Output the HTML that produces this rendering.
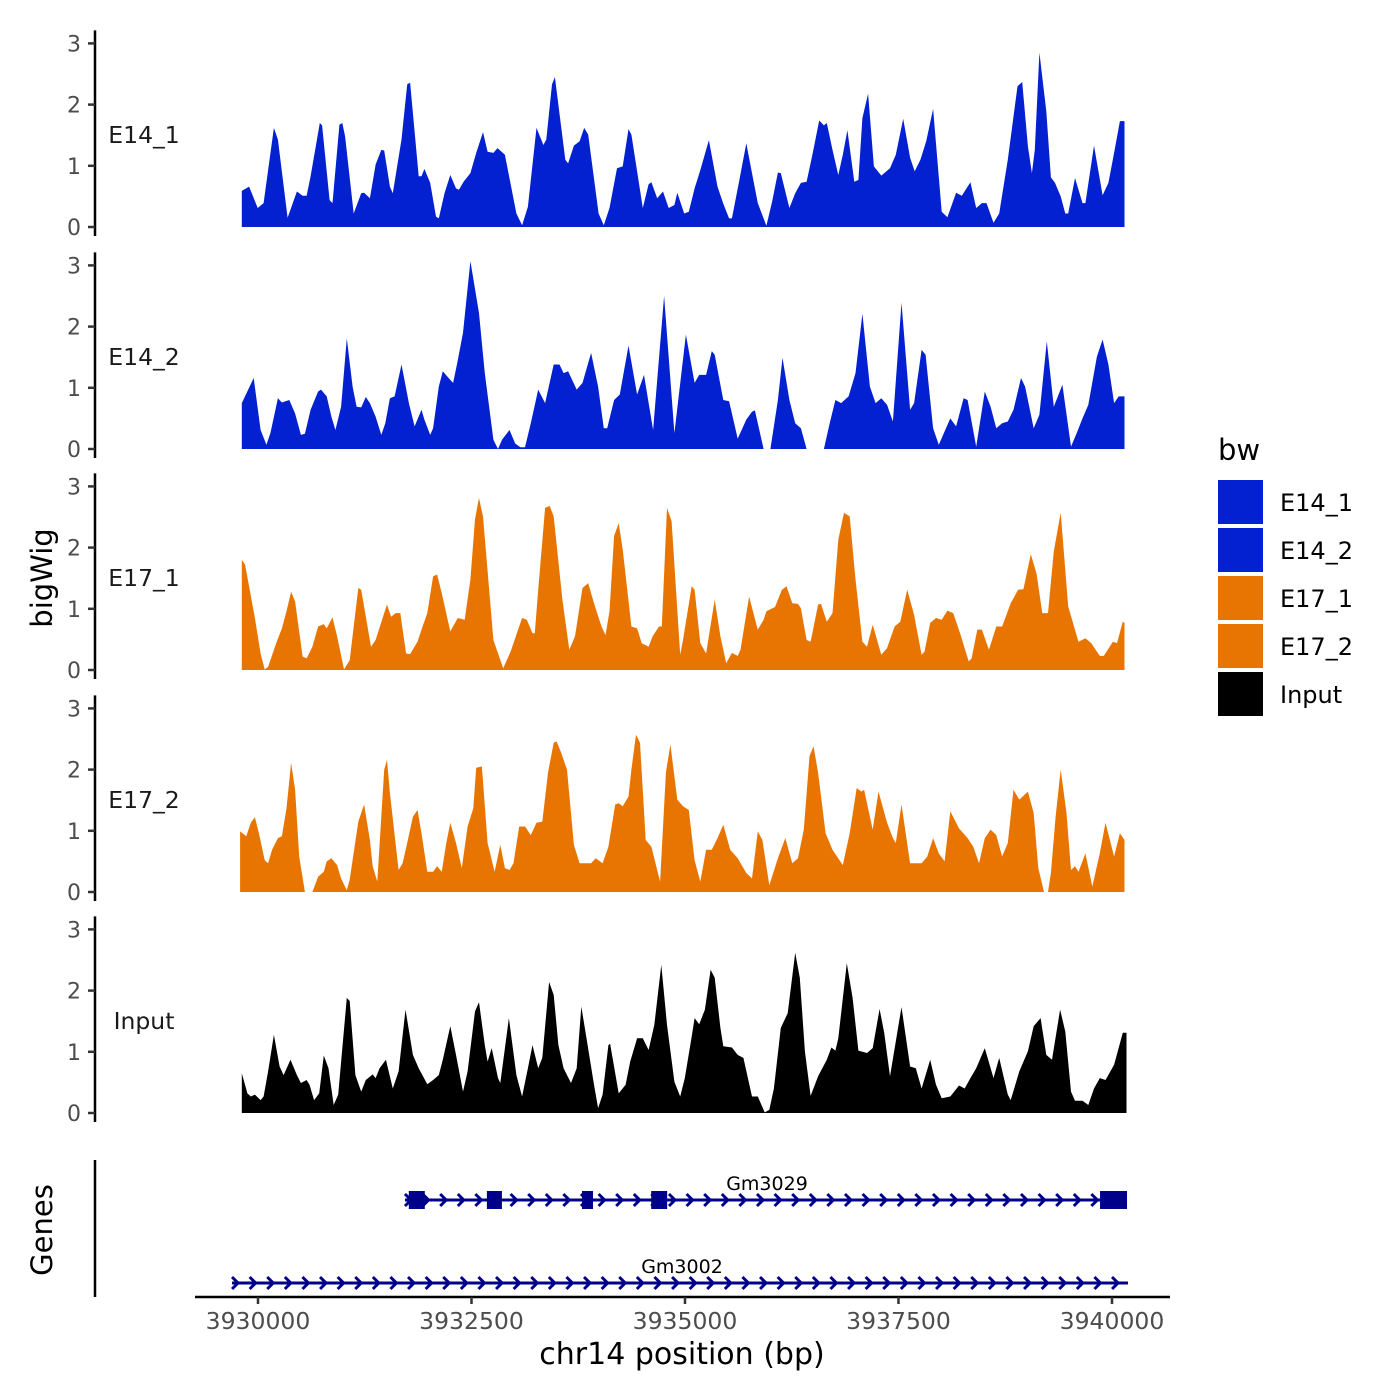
<!DOCTYPE html>
<html><head><meta charset="utf-8"><style>
html,body{margin:0;padding:0;background:#fff;}
svg{display:block;font-family:"DejaVu Sans","Liberation Sans",sans-serif;}
</style></head><body>
<svg id="chart" width="1400" height="1400" viewBox="0 0 1400 1400">
<rect width="1400" height="1400" fill="#fff"/>
<g id="tracks"></g>
<g id="genes"></g>
<g id="xaxis"></g>
<text x="42" y="578" font-size="29" fill="#000" text-anchor="middle" transform="rotate(-90 42 578)" dominant-baseline="central">bigWig</text>
<text x="42" y="1230" font-size="29" fill="#000" text-anchor="middle" transform="rotate(-90 42 1230)" dominant-baseline="central">Genes</text>
<text x="682" y="1364" font-size="30" fill="#000" text-anchor="middle">chr14 position (bp)</text>
<g id="legend">
<text x="1218" y="460" font-size="29" fill="#000">bw</text>
</g>
</svg>
<script>
// ---- data ----
const trackNames = ["E14_1","E14_2","E17_1","E17_2","Input"];
const trackColors = ["#0421D1","#0421D1","#E87502","#E87502","#000000"];
const yTicks = [0,1,2,3];
const xTicks = [3930000,3932500,3935000,3937500,3940000];

const e14_1Pos = [3929810,3929896,3929997,3930065,3930186,3930233,3930347,3930455,3930522,3930569,3930616,3930724,3930751,3930838,3930872,3930953,3930987,3931020,3931121,3931209,3931242,3931310,3931377,3931444,3931478,3931545,3931579,3931680,3931747,3931781,3931882,3931915,3931949,3932016,3932084,3932117,3932184,3932252,3932319,3932353,3932407,3932487,3932555,3932635,3932689,3932757,3932804,3932891,3933026,3933093,3933160,3933261,3933342,3933376,3933443,3933477,3933598,3933631,3933699,3933766,3933820,3933867,3933988,3934049,3934116,3934204,3934271,3934338,3934372,3934506,3934574,3934607,3934675,3934742,3934809,3934876,3934910,3934991,3935045,3935112,3935179,3935280,3935381,3935449,3935516,3935549,3935637,3935718,3935785,3935852,3935953,3936021,3936088,3936122,3936222,3936290,3936357,3936424,3936492,3936572,3936626,3936660,3936727,3936795,3936848,3936902,3936983,3937030,3937077,3937144,3937212,3937299,3937400,3937468,3937555,3937636,3937690,3937757,3937824,3937905,3938006,3938073,3938174,3938241,3938342,3938410,3938477,3938531,3938612,3938679,3938780,3938894,3938948,3939015,3939062,3939096,3939150,3939231,3939285,3939332,3939399,3939453,3939487,3939567,3939655,3939688,3939789,3939890,3939958,3940025,3940092,3940146];
const e14_1Val = [0.59,0.66,0.31,0.39,1.62,1.43,0.15,0.58,0.51,0.51,0.83,1.70,1.66,0.44,0.39,1.67,1.70,1.48,0.22,0.55,0.56,0.47,1.02,1.26,1.25,0.66,0.55,1.43,2.33,2.36,0.83,0.83,0.95,0.72,0.17,0.14,0.55,0.85,0.63,0.61,0.74,0.88,1.21,1.55,1.23,1.21,1.29,1.18,0.22,0.03,0.33,1.62,1.34,1.43,2.33,2.45,1.10,1.04,1.33,1.40,1.62,1.51,0.22,0.03,0.31,0.96,0.99,1.60,1.51,0.31,0.70,0.73,0.47,0.58,0.31,0.36,0.56,0.22,0.25,0.63,0.93,1.42,0.66,0.38,0.14,0.14,0.77,1.37,0.88,0.39,0.02,0.42,0.89,0.88,0.31,0.55,0.72,0.74,1.18,1.74,1.66,1.70,1.26,0.85,1.18,1.58,0.74,0.77,1.78,2.18,0.99,0.84,0.96,1.18,1.77,1.13,0.91,1.10,1.40,1.93,0.25,0.16,0.56,0.51,0.73,0.31,0.39,0.39,0.07,0.22,1.10,2.30,2.37,1.32,0.88,1.26,2.85,1.89,0.81,0.72,0.50,0.22,0.22,0.80,0.39,0.39,1.33,0.52,0.72,1.21,1.73,1.73];

const e14_2Pos = [3929810,3929950,3930031,3930098,3930145,3930233,3930280,3930367,3930435,3930502,3930549,3930616,3930704,3930738,3930805,3930859,3930906,3930973,3931040,3931108,3931155,3931209,3931262,3931310,3931377,3931444,3931491,3931545,3931599,3931680,3931767,3931834,3931915,3931949,3932016,3932050,3932117,3932164,3932232,3932285,3932333,3932400,3932487,3932588,3932656,3932757,3932810,3932857,3932945,3933012,3933073,3933127,3933194,3933281,3933362,3933463,3933530,3933578,3933631,3933732,3933800,3933901,3933982,3934049,3934089,3934170,3934237,3934338,3934439,3934520,3934627,3934755,3934876,3935011,3935112,3935166,3935247,3935314,3935348,3935449,3935516,3935617,3935718,3935785,3935819,3935920,3936000,3936088,3936142,3936222,3936290,3936357,3936424,3936626,3936694,3936761,3936828,3936916,3936996,3937077,3937165,3937232,3937299,3937367,3937434,3937535,3937636,3937683,3937770,3937817,3937905,3937972,3938107,3938174,3938262,3938309,3938410,3938511,3938578,3938645,3938713,3938780,3938847,3938935,3938982,3939083,3939150,3939237,3939318,3939419,3939520,3939587,3939655,3939722,3939823,3939890,3939958,3940025,3940079,3940146];
const e14_2Val = [0.75,1.16,0.31,0.07,0.26,0.83,0.76,0.80,0.58,0.23,0.25,0.64,0.94,0.97,0.86,0.53,0.31,0.69,1.81,1.02,0.69,0.68,0.85,0.75,0.53,0.23,0.42,0.83,0.86,1.38,0.75,0.37,0.64,0.48,0.23,0.34,1.02,1.27,1.16,1.08,1.40,1.90,3.07,2.22,1.24,0.15,0,0.15,0.31,0.09,0.03,0.03,0.42,0.97,0.75,1.38,1.38,1.24,1.27,0.97,1.08,1.57,1.02,0.34,0.34,0.80,0.89,1.69,0.89,1.21,0.31,2.50,0.26,1.87,1.08,1.21,1.21,1.60,1.54,0.80,0.78,0.17,0.48,0.61,0.63,0,0,0.80,1.49,0.80,0.42,0.34,0,0,0.42,0.80,0.75,0.86,1.24,2.21,1.02,0.75,0.83,0.72,0.45,2.39,0.64,0.75,1.62,1.54,0.34,0.07,0.50,0.37,0.83,0.80,0.04,0.94,0.69,0.34,0.42,0.45,0.64,1.16,1.02,0.34,0.56,1.76,0.69,1.05,0.04,0.26,0.50,0.72,1.51,1.79,1.38,0.75,0.86,0.86];

const e17_1Pos = [3929810,3929849,3929964,3930031,3930078,3930118,3930213,3930280,3930334,3930388,3930435,3930522,3930569,3930637,3930704,3930771,3930805,3930872,3930926,3931007,3931074,3931175,3931209,3931323,3931377,3931464,3931511,3931559,3931612,3931666,3931734,3931781,3931868,3931915,3931983,3932050,3932097,3932151,3932252,3932339,3932420,3932487,3932541,3932588,3932635,3932757,3932871,3932958,3933093,3933147,3933214,3933241,3933281,3933362,3933416,3933463,3933564,3933645,3933712,3933800,3933867,3933934,3934022,3934069,3934116,3934170,3934224,3934271,3934372,3934439,3934493,3934574,3934621,3934695,3934728,3934789,3934843,3934944,3934977,3935078,3935112,3935179,3935247,3935348,3935415,3935482,3935549,3935617,3935650,3935751,3935852,3935920,3935953,3936054,3936135,3936189,3936256,3936323,3936357,3936424,3936471,3936559,3936593,3936660,3936727,3936795,3936862,3936929,3936996,3937077,3937131,3937198,3937299,3937367,3937454,3937521,3937602,3937683,3937770,3937804,3937871,3937939,3938006,3938073,3938141,3938221,3938322,3938356,3938423,3938477,3938558,3938645,3938713,3938814,3938901,3938962,3939049,3939116,3939184,3939251,3939318,3939399,3939487,3939608,3939688,3939756,3939857,3939904,3940011,3940058,3940126,3940146];
const e17_1Val = [1.80,1.72,0.85,0.27,0.01,0.05,0.44,0.68,0.96,1.28,1.12,0.22,0.19,0.38,0.71,0.75,0.68,0.86,0.55,0.01,0.16,1.34,1.31,0.38,0.49,0.87,1.07,0.87,0.93,0.93,0.27,0.26,0.46,0.66,0.93,1.53,1.56,1.26,0.63,0.85,0.82,1.48,2.46,2.81,2.51,0.49,0.03,0.30,0.85,0.82,0.60,0.60,1.31,2.65,2.68,2.51,1.15,0.33,0.55,1.34,1.42,1.09,0.71,0.57,0.96,2.19,2.40,1.97,0.71,0.68,0.44,0.38,0.55,0.71,0.71,2.65,2.43,0.25,0.49,1.37,1.31,0.44,0.27,1.15,0.55,0.11,0.28,0.23,0.33,1.20,0.66,0.82,0.96,1.03,1.31,1.37,1.09,1.08,1.01,0.49,0.46,1.07,1.08,0.79,0.93,2.13,2.57,2.51,1.48,0.46,0.38,0.74,0.25,0.36,0.71,0.79,1.31,0.90,0.25,0.30,0.77,0.85,0.82,0.97,0.93,0.60,0.14,0.19,0.66,0.66,0.33,0.71,0.71,1.09,1.31,1.32,1.89,1.58,0.93,0.93,1.94,2.57,1.04,0.46,0.52,0.44,0.23,0.23,0.46,0.44,0.79,0.77];

const e17_2Pos = [3929790,3929863,3929916,3929964,3930011,3930078,3930118,3930165,3930233,3930280,3930334,3930388,3930435,3930482,3930549,3930637,3930704,3930771,3930805,3930859,3930926,3930973,3931040,3931074,3931175,3931242,3931310,3931343,3931397,3931444,3931478,3931511,3931545,3931646,3931693,3931747,3931814,3931868,3931915,3931983,3932050,3932097,3932151,3932205,3932252,3932319,3932386,3932454,3932521,3932555,3932622,3932689,3932770,3932837,3932891,3932945,3932992,3933059,3933127,3933194,3933261,3933329,3933396,3933463,3933497,3933551,3933618,3933699,3933766,3933901,3933954,3934035,3934103,3934183,3934224,3934271,3934338,3934372,3934426,3934473,3934540,3934607,3934708,3934776,3934829,3934910,3934977,3935045,3935112,3935179,3935247,3935314,3935381,3935449,3935529,3935617,3935718,3935785,3935852,3935906,3935987,3936088,3936175,3936256,3936323,3936391,3936458,3936505,3936559,3936646,3936727,3936848,3936929,3937010,3937064,3937097,3937198,3937266,3937367,3937434,3937468,3937535,3937636,3937770,3937837,3937905,3937972,3938040,3938107,3938208,3938309,3938376,3938443,3938511,3938578,3938645,3938713,3938780,3938847,3938914,3939015,3939083,3939137,3939204,3939251,3939285,3939339,3939399,3939467,3939520,3939567,3939608,3939688,3939769,3939857,3939924,3940025,3940092,3940146];
const e17_2Val = [0.99,0.91,1.13,1.22,0.96,0.52,0.47,0.69,0.88,0.91,1.37,2.11,1.67,0.58,0,0,0.25,0.33,0.50,0.55,0.44,0.22,0.03,0.20,1.15,1.43,0.85,0.42,0.17,1.23,2.00,2.16,1.62,0.36,0.47,0.80,1.23,1.34,0.96,0.33,0.33,0.42,0.33,0.80,1.13,0.80,0.39,1.07,1.37,2.03,2.05,0.80,0.33,0.77,0.39,0.36,0.47,1.07,1.07,0.93,1.13,1.15,1.95,2.44,2.46,2.27,2.00,0.77,0.47,0.47,0.55,0.47,0.74,1.43,1.45,1.40,1.56,2.00,2.57,2.44,0.85,0.74,0.17,1.95,2.41,1.51,1.40,1.34,0.52,0.17,0.69,0.69,0.88,1.10,0.69,0.55,0.31,0.22,0.99,0.85,0.11,0.55,0.88,0.47,0.55,1.02,2.22,2.38,1.95,0.96,0.69,0.44,0.96,1.70,1.64,1.67,1.02,1.64,1.13,0.88,0.80,1.43,0.47,0.47,0.58,0.88,0.63,0.50,1.32,1.04,0.88,0.74,0.47,0.88,1.02,0.93,0.58,0.80,1.67,1.51,1.64,1.29,0.39,0,0,0.31,1.23,2.00,1.29,0.36,0.42,0.33,0.63,0.09,0.63,1.13,0.58,0.96,0.85];

const inputPos = [3929810,3929876,3929916,3929964,3930031,3930065,3930118,3930186,3930253,3930300,3930381,3930455,3930502,3930569,3930603,3930657,3930717,3930771,3930825,3930886,3930939,3931040,3931074,3931141,3931209,3931262,3931343,3931377,3931424,3931498,3931579,3931646,3931727,3931814,3931882,3931983,3932050,3932117,3932164,3932252,3932319,3932400,3932454,3932541,3932588,3932656,3932689,3932736,3932810,3932837,3932938,3933026,3933093,3933160,3933214,3933281,3933329,3933409,3933463,3933517,3933578,3933665,3933732,3933786,3933847,3933934,3933982,3934035,3934103,3934123,3934224,3934304,3934358,3934439,3934506,3934574,3934641,3934722,3934789,3934876,3934944,3934998,3935078,3935112,3935166,3935233,3935300,3935348,3935415,3935449,3935549,3935617,3935684,3935785,3935852,3935933,3935987,3936041,3936122,3936202,3936290,3936344,3936404,3936471,3936559,3936660,3936714,3936761,3936795,3936895,3936963,3937030,3937131,3937198,3937279,3937333,3937400,3937535,3937636,3937703,3937770,3937871,3937939,3938006,3938107,3938208,3938275,3938342,3938410,3938511,3938612,3938679,3938780,3938814,3938914,3939015,3939083,3939164,3939231,3939298,3939392,3939453,3939520,3939567,3939655,3939722,3939789,3939857,3939924,3940025,3940126,3940170];
const inputVal = [0.65,0.32,0.27,0.30,0.21,0.27,0.68,1.28,0.76,0.62,0.87,0.62,0.49,0.54,0.46,0.21,0.32,0.94,0.73,0.13,0.30,1.88,1.83,0.62,0.35,0.54,0.63,0.57,0.73,0.87,0.40,0.68,1.69,0.95,0.73,0.47,0.54,0.62,0.87,1.42,0.95,0.35,0.68,1.66,1.81,1.11,0.84,1.06,0.57,0.49,1.55,0.62,0.27,0.73,1.11,0.73,0.90,2.14,1.93,1.11,0.73,0.49,0.73,1.74,1.22,0.46,0.08,0.30,1.11,1.13,0.32,0.46,0.84,1.22,1.22,1.03,1.44,2.42,1.44,0.51,0.27,0.57,1.25,1.55,1.45,1.69,2.34,2.21,1.39,1.09,1.07,0.95,0.90,0.27,0.27,0.01,0.05,0.40,1.39,1.63,2.62,2.21,1.01,0.28,0.60,0.87,1.07,1.02,1.22,2.45,1.88,1.02,0.98,1.06,1.70,1.31,0.60,1.73,0.76,0.73,0.40,0.87,0.46,0.24,0.27,0.45,0.40,0.57,0.73,1.06,0.57,0.90,0.30,0.21,0.68,1.01,1.42,1.55,0.95,0.87,1.69,1.33,0.35,0.20,0.20,0.13,0.40,0.57,0.54,0.79,1.31,1.31];

const genePositions = [[3931721,3940176],[3929696,3940187]];
const geneNames = ["Gm3029","Gm3002"];
const gm3029ExonStarts = [3931766,3932680,3933794,3934604,3939860];
const gm3029ExonEnds = [3931953,3932856,3933923,3934791,3940176];
const legendLabels = ["E14_1","E14_2","E17_1","E17_2","Input"];

// ---- layout ----
const NS = "http://www.w3.org/2000/svg";
const xScale = bp => 258 + (bp - 3930000) * 0.0854;
const zeroY = [227,449,670,892,1113];
const unitPx = 61.2;
const seriesPos = [e14_1Pos,e14_2Pos,e17_1Pos,e17_2Pos,inputPos];
const seriesVal = [e14_1Val,e14_2Val,e17_1Val,e17_2Val,inputVal];

function mk(tag, attrs, parent){
  const el = document.createElementNS(NS, tag);
  for (const k in attrs) el.setAttribute(k, attrs[k]);
  parent.appendChild(el);
  return el;
}

const tracksG = document.getElementById('tracks');
trackNames.forEach((name, t) => {
  const g = mk('g', {}, tracksG);
  
  
  const y0 = zeroY[t];
  const yS = v => y0 - v * unitPx;
  const P = seriesPos[t], V = seriesVal[t];
  let d = 'M' + xScale(P[0]).toFixed(1) + ',' + y0;
  for (let i = 0; i < P.length; i++) d += 'L' + xScale(P[i]).toFixed(1) + ',' + yS(V[i]).toFixed(1);
  d += 'L' + xScale(P[P.length-1]).toFixed(1) + ',' + y0 + 'Z';
  const area = mk('path', {d: d, fill: trackColors[t]}, g);
  
  
  const ax = mk('line', {x1:95, x2:95, y1:yS(3)-13, y2:y0+9, stroke:'#000', 'stroke-width':2.5}, g);
  
  
  yTicks.forEach(v => {
    const tk = mk('line', {x1:88, x2:95, y1:yS(v), y2:yS(v), stroke:'#333', 'stroke-width':2.5}, g);
    
    
    const tl = mk('text', {x:81, y:yS(v)+8, 'font-size':22, fill:'#4d4d4d', 'text-anchor':'end'}, g);
    tl.textContent = v;
    
    
  });
  const lab = mk('text', {x: 144, y: y0 - 1.5*unitPx + 8, 'font-size':23.5, fill:'#1a1a1a', 'text-anchor':'middle'}, g);
  lab.textContent = name;
  
  
});

// genes
const genesG = document.getElementById('genes');
const gax = mk('line', {x1:95, x2:95, y1:1160, y2:1297, stroke:'#000', 'stroke-width':2.5}, genesG);


const geneY = [1200, 1283];
const geneLabelX = [767, 682];
genePositions.forEach((gp, i) => {
  const g = mk('g', {}, genesG);
  
  
  const x1 = xScale(gp[0]), x2 = xScale(gp[1]), y = geneY[i];
  mk('line', {x1:x1, x2:x2, y1:y, y2:y, stroke:'#00008B', 'stroke-width':3}, g);
  for (let x = x1 + 4; x <= x2; x += 17.6) {
    mk('path', {d:`M${x-4},${y-6}L${x+2},${y}L${x-4},${y+6}`, fill:'none', stroke:'#00008B', 'stroke-width':3}, g);
  }
  const tl = mk('text', {x:geneLabelX[i], y:y-10, 'font-size':19, fill:'#000', 'text-anchor':'middle'}, g);
  tl.textContent = geneNames[i];
  
  
});
gm3029ExonStarts.forEach((s, i) => {
  const ex = mk('rect', {x: xScale(s), y: 1191, width: xScale(gm3029ExonEnds[i]) - xScale(s), height: 18, fill:'#00008B'}, genesG);
  
  
});

// x axis
const xg = document.getElementById('xaxis');
mk('line', {x1:195, x2:1170, y1:1297, y2:1297, stroke:'#000', 'stroke-width':2.5}, xg);
xTicks.forEach(v => {
  const x = xScale(v);
  const tk = mk('line', {x1:x, x2:x, y1:1297, y2:1304, stroke:'#333', 'stroke-width':2.5}, xg);
  
  
  const tl = mk('text', {x:x, y:1329, 'font-size':23.5, fill:'#4d4d4d', 'text-anchor':'middle'}, xg);
  tl.textContent = v;
  
  
});

// legend
const lg = document.getElementById('legend');
legendLabels.forEach((l, i) => {
  const g = mk('g', {}, lg);
  
  
  const y = 480 + i * 48;
  mk('rect', {x:1218, y:y, width:45, height:44, fill:trackColors[i]}, g);
  const t = mk('text', {x:1280, y:y+31, 'font-size':24, fill:'#000'}, g);
  t.textContent = l;
});
</script>
</body></html>
